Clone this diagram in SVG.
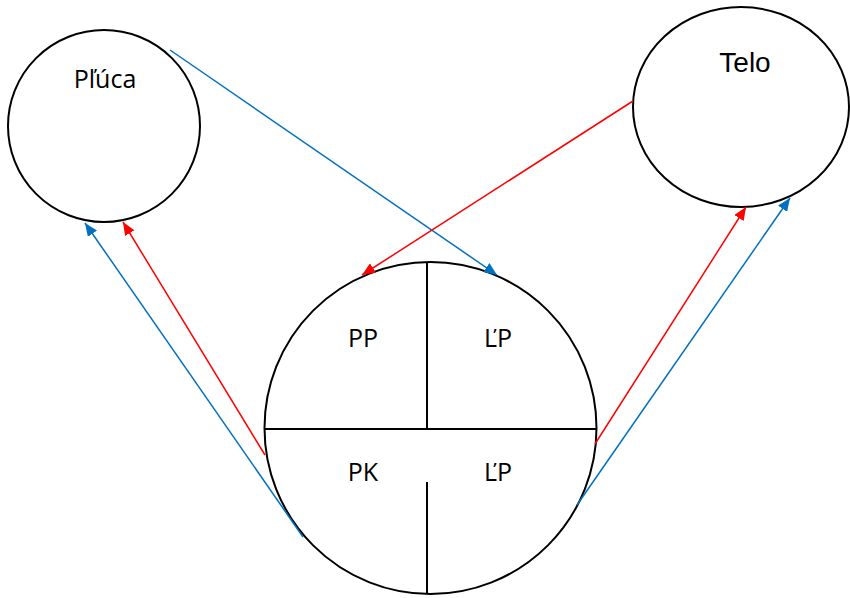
<svg xmlns="http://www.w3.org/2000/svg" width="850" height="598" viewBox="0 0 850 598">
<style>
.node{fill:#fff;stroke:#000;stroke-width:2}
.div{stroke:#000;stroke-width:2;fill:none}
.lbl{font-family:"Open Sans","Liberation Sans",sans-serif;font-size:25px;fill:#000;text-anchor:middle}
.blue{stroke:#0070C0;stroke-width:1.5;fill:none}
.red{stroke:#FF0000;stroke-width:1.5;fill:none}
</style>
<defs>
<marker id="ab" markerUnits="userSpaceOnUse" markerWidth="13" markerHeight="11" refX="13" refY="5.5" orient="auto">
<path d="M0,0 L13,5.5 L0,11 z" fill="#0070C0"/>
</marker>
<marker id="ar" markerUnits="userSpaceOnUse" markerWidth="13" markerHeight="11" refX="13" refY="5.5" orient="auto">
<path d="M0,0 L13,5.5 L0,11 z" fill="#FF0000"/>
</marker>
</defs>
<g id="pluca">
<circle class="node" cx="104" cy="126" r="96"/>
<text class="lbl" x="105" y="88">Pľúca</text>
</g>
<g id="telo">
<ellipse class="node" cx="741" cy="107" rx="108" ry="100"/>
<text x="745" y="72" style="font-family:'Liberation Sans',Arial,sans-serif;font-size:28px;text-anchor:middle">Telo</text>
</g>
<g id="srdce">
<circle class="node" cx="430.5" cy="428" r="166"/>
<line class="div" x1="265" y1="429" x2="596" y2="429"/>
<line class="div" x1="427" y1="262" x2="427" y2="429"/>
<line class="div" x1="427" y1="482" x2="427" y2="594"/>
<text class="lbl" x="363" y="347">PP</text>
<text class="lbl" x="498" y="347">ĽP</text>
<text class="lbl" x="363" y="481">PK</text>
<text class="lbl" x="498" y="481">ĽP</text>
</g>
<g id="connectors">
<line class="blue" x1="170" y1="50" x2="497" y2="275" marker-end="url(#ab)"/>
<line class="red" x1="633" y1="101" x2="362" y2="275" marker-end="url(#ar)"/>
<line class="red" x1="265" y1="455" x2="123" y2="222" marker-end="url(#ar)"/>
<line class="blue" x1="303" y1="537" x2="85" y2="223" marker-end="url(#ab)"/>
<line class="red" x1="595" y1="444" x2="746" y2="207" marker-end="url(#ar)"/>
<line class="blue" x1="577" y1="505" x2="790" y2="198" marker-end="url(#ab)"/>
</g>
</svg>
